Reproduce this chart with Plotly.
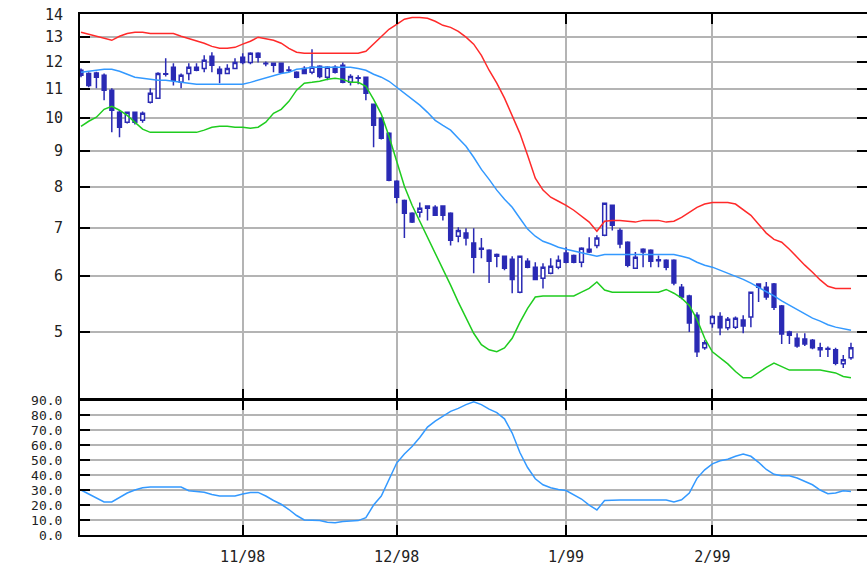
import plotly.graph_objects as go

# ---------------- data ----------------
MONTH_DAYS = {
    "1998-10": [2, 5, 6, 7, 8, 9, 12, 13, 14, 15, 16, 19, 20, 21, 22, 23, 26, 27, 28, 29, 30],
    "1998-11": [2, 3, 4, 5, 6, 9, 10, 11, 12, 13, 16, 17, 18, 19, 20, 23, 24, 25, 27, 30],
    "1998-12": [1, 2, 3, 4, 7, 8, 9, 10, 11, 14, 15, 16, 17, 18, 21, 22, 23, 24, 28, 29, 30, 31],
    "1999-01": [4, 5, 6, 7, 8, 11, 12, 13, 14, 15, 19, 20, 21, 22, 25, 26, 27, 28, 29],
    "1999-02": [1, 2, 3, 4, 5, 8, 9, 10, 11, 12, 16, 17, 18, 19, 22, 23, 24, 25, 26],
}
dates = [f"{m}-{d:02d}" for m, days in MONTH_DAYS.items() for d in days]

tick_dates = ["1998-11-02", "1998-12-01", "1999-01-04", "1999-02-01"]
tick_labels = ["11/98", "12/98", "1/99", "2/99"]

open_ = [11.68, 11.56, 11.58, 11.49, 10.95, 10.19, 9.87, 10.19, 9.93, 10.53,
         10.67, 11.55, 11.79, 11.23, 11.56, 11.79, 11.75, 12.22, 11.72, 11.56,
         11.75, 12.18, 11.98, 12.34, 11.95, 11.95, 11.95, 11.69, 11.60, 11.75,
         11.60, 11.83, 11.42, 11.79, 11.87, 11.23, 11.40, 11.42, 10.46, 10.00,
         9.52, 8.15, 7.66, 7.35, 7.37, 7.52, 7.49, 7.52, 7.35, 6.82,
         6.89, 6.67, 6.56, 6.52, 6.43, 6.39, 6.33, 5.69, 6.29, 6.17,
         5.95, 6.05, 6.17, 6.46, 6.41, 6.27, 6.54, 6.62, 6.84, 7.54,
         6.95, 6.69, 6.15, 6.54, 6.52, 6.32, 6.31, 6.31, 5.78, 5.62,
         5.28, 4.75, 5.14, 5.26, 5.07, 5.08, 5.20, 5.25, 5.84, 5.78,
         5.84, 5.44, 5.00, 4.90, 4.89, 4.87, 4.75, 4.74, 4.72, 4.51,
         4.60]

high = [11.75, 11.60, 11.62, 11.56, 11.02, 10.26, 10.22, 10.22, 10.22, 11.02,
        11.60, 12.14, 11.95, 11.56, 11.95, 11.95, 12.26, 12.38, 11.83, 11.91,
        12.14, 12.34, 12.38, 12.38, 12.02, 11.95, 11.98, 11.83, 11.64, 11.83,
        12.50, 11.87, 11.83, 11.87, 11.98, 11.53, 11.49, 11.45, 10.49, 10.03,
        9.55, 8.18, 7.68, 7.37, 7.61, 7.54, 7.54, 7.54, 7.37, 7.02,
        7.00, 7.00, 6.78, 6.54, 6.45, 6.41, 6.39, 6.41, 6.35, 6.27,
        6.25, 6.35, 6.41, 6.58, 6.43, 6.58, 6.80, 6.84, 7.61, 7.56,
        7.00, 6.71, 6.48, 6.56, 6.54, 6.41, 6.33, 6.33, 5.84, 5.64,
        5.33, 4.87, 5.28, 5.33, 5.25, 5.26, 5.28, 5.69, 5.85, 5.88,
        5.86, 5.46, 5.02, 4.98, 4.98, 4.89, 4.83, 4.77, 4.75, 4.64,
        4.83]

low = [11.42, 11.05, 11.02, 10.60, 9.55, 9.40, 9.83, 9.80, 9.85, 10.49,
       10.65, 11.45, 11.12, 11.02, 11.31, 11.64, 11.60, 11.60, 11.20, 11.53,
       11.72, 11.91, 11.91, 11.98, 11.83, 11.60, 11.56, 11.60, 11.38, 11.53,
       11.53, 11.38, 11.31, 11.56, 11.20, 11.12, 11.16, 10.60, 9.10, 9.33,
       8.15, 7.59, 6.78, 7.12, 7.25, 7.18, 7.28, 7.18, 6.62, 6.69,
       6.62, 6.05, 6.35, 5.86, 6.17, 6.11, 5.67, 5.67, 6.15, 5.92,
       5.76, 6.03, 6.13, 6.25, 6.25, 6.17, 6.46, 6.56, 6.82, 6.95,
       6.56, 6.17, 6.15, 6.17, 6.17, 6.17, 6.11, 5.82, 5.56, 5.00,
       4.61, 4.72, 5.07, 4.95, 5.03, 5.05, 4.98, 5.08, 5.51, 5.55,
       5.37, 4.81, 4.81, 4.75, 4.78, 4.73, 4.61, 4.61, 4.49, 4.45,
       4.57]

close = [11.49, 11.12, 11.42, 10.95, 10.26, 9.71, 10.19, 9.87, 10.16, 10.84,
         11.56, 11.53, 11.31, 11.49, 11.79, 11.68, 12.06, 11.87, 11.56, 11.75,
         11.98, 11.98, 12.34, 12.18, 11.93, 11.87, 11.60, 11.67, 11.42, 11.56,
         11.79, 11.45, 11.79, 11.60, 11.23, 11.45, 11.38, 10.84, 9.77, 9.37,
         8.18, 7.74, 7.35, 7.14, 7.47, 7.47, 7.30, 7.30, 6.73, 6.95,
         6.78, 6.37, 6.54, 6.29, 6.39, 6.15, 5.93, 6.39, 6.17, 5.93,
         6.17, 6.19, 6.31, 6.27, 6.27, 6.56, 6.48, 6.78, 7.59, 7.07,
         6.65, 6.21, 6.37, 6.48, 6.29, 6.30, 6.17, 5.86, 5.60, 5.15,
         4.69, 4.83, 5.26, 5.07, 5.21, 5.23, 5.10, 5.69, 5.78, 5.60,
         5.42, 4.97, 4.95, 4.78, 4.81, 4.75, 4.72, 4.73, 4.52, 4.57,
         4.75]

upper_band = [13.21, 13.12, 13.04, 12.95, 12.87, 13.04, 13.16, 13.21, 13.21, 13.16,
              13.16, 13.16, 13.16, 13.04, 12.95, 12.87, 12.75, 12.62, 12.54, 12.54,
              12.58, 12.71, 12.83, 13.00, 12.95, 12.87, 12.75, 12.54, 12.38, 12.34,
              12.34, 12.34, 12.34, 12.34, 12.34, 12.34, 12.34, 12.42, 12.71, 13.04,
              13.34, 13.55, 13.78, 13.86, 13.86, 13.82, 13.69, 13.51, 13.42, 13.25,
              13.00, 12.71, 12.26, 11.68, 11.20, 10.67, 10.09, 9.52, 8.87, 8.23,
              7.92, 7.74, 7.64, 7.54, 7.42, 7.28, 7.14, 6.93, 7.16, 7.18,
              7.18, 7.16, 7.14, 7.18, 7.18, 7.18, 7.14, 7.16, 7.25, 7.37,
              7.49, 7.57, 7.61, 7.61, 7.61, 7.57, 7.44, 7.30, 7.09, 6.89,
              6.75, 6.69, 6.54, 6.37, 6.21, 6.07, 5.92, 5.80, 5.76, 5.76,
              5.76]

middle_band = [11.60, 11.64, 11.68, 11.72, 11.72, 11.64, 11.53, 11.42, 11.38, 11.34,
               11.31, 11.31, 11.27, 11.23, 11.20, 11.16, 11.16, 11.16, 11.16, 11.16,
               11.16, 11.16, 11.23, 11.31, 11.38, 11.45, 11.56, 11.60, 11.72, 11.75,
               11.79, 11.79, 11.79, 11.79, 11.79, 11.79, 11.75, 11.68, 11.53, 11.42,
               11.27, 11.05, 10.84, 10.63, 10.43, 10.19, 9.93, 9.77, 9.62, 9.37,
               9.13, 8.81, 8.47, 8.20, 7.92, 7.69, 7.49, 7.23, 6.98, 6.82,
               6.71, 6.65, 6.58, 6.54, 6.50, 6.46, 6.43, 6.39, 6.43, 6.43,
               6.43, 6.43, 6.43, 6.43, 6.43, 6.43, 6.43, 6.43, 6.39, 6.35,
               6.27, 6.21, 6.17, 6.11, 6.05, 5.99, 5.93, 5.86, 5.78, 5.69,
               5.62, 5.53, 5.45, 5.37, 5.30, 5.23, 5.18, 5.12, 5.08, 5.05,
               5.03]

lower_band = [9.74, 9.90, 10.03, 10.29, 10.39, 10.26, 10.09, 9.87, 9.65, 9.55,
              9.55, 9.55, 9.55, 9.55, 9.55, 9.55, 9.62, 9.71, 9.74, 9.74,
              9.71, 9.71, 9.68, 9.71, 9.87, 10.16, 10.29, 10.56, 10.95, 11.20,
              11.23, 11.27, 11.34, 11.38, 11.34, 11.23, 11.23, 11.09, 10.63, 10.13,
              9.43, 8.67, 8.02, 7.54, 7.16, 6.80, 6.46, 6.15, 5.82, 5.51,
              5.23, 4.98, 4.80, 4.72, 4.69, 4.75, 4.90, 5.16, 5.40, 5.60,
              5.62, 5.62, 5.62, 5.62, 5.62, 5.69, 5.76, 5.88, 5.73, 5.69,
              5.69, 5.69, 5.69, 5.69, 5.69, 5.69, 5.74, 5.67, 5.58, 5.45,
              5.21, 4.90, 4.69, 4.60, 4.51, 4.40, 4.31, 4.31, 4.39, 4.46,
              4.52, 4.47, 4.42, 4.42, 4.42, 4.42, 4.42, 4.40, 4.38, 4.33,
              4.31]

indicator = [30, 27.5, 25, 22, 22, 25, 28, 30, 31.5, 32,
             32, 32, 32, 32, 29.5, 29, 28.5, 27, 26, 26,
             26, 27.3, 28.4, 28.4, 26, 23, 20.5, 17, 13, 10,
             10, 9.6, 8.5, 8.2, 9, 9.5, 9.6, 11.5, 20, 26,
             37, 48, 54, 59, 65, 72, 76, 79, 82.5, 84.5,
             87, 88.9, 87, 84, 81.6, 77.5, 68, 55, 45, 37.5,
             33.5, 31.5, 30.3, 29.7, 27, 24, 20, 16.7, 23, 23.3,
             23.3, 23.3, 23.3, 23.3, 23.3, 23.3, 23.3, 22, 23.5, 28,
             37.8, 43.5, 47.5, 49.5, 50.5, 52.5, 54, 52.5, 48.5, 43.7,
             40.5, 39.5, 39.5, 38, 36, 33.5, 30, 27.5, 28, 29.5,
             29]

price_ticks = [5, 6, 7, 8, 9, 10, 11, 12, 13, 14]
ind_ticks = [0, 10, 20, 30, 40, 50, 60, 70, 80, 90]
ind_labels = [f"{v:.1f}" for v in ind_ticks]

# ---------------- styling ----------------
CANDLE = "#2a2ab4"
RED = "#ff2a2a"
MID = "#3399ff"
GREEN = "#1fcc1f"
GRID = "#b4b4b4"
FONT = dict(family="DejaVu Sans Mono", size=15, color="#222222")
FONT_SMALL = dict(family="DejaVu Sans Mono", size=13, color="#222222")

fig = go.Figure()

fig.add_trace(go.Scatter(x=dates, y=upper_band, mode="lines",
                         line=dict(color=RED, width=1.5), xaxis="x", yaxis="y"))
fig.add_trace(go.Scatter(x=dates, y=middle_band, mode="lines",
                         line=dict(color=MID, width=1.5), xaxis="x", yaxis="y"))
fig.add_trace(go.Scatter(x=dates, y=lower_band, mode="lines",
                         line=dict(color=GREEN, width=1.5), xaxis="x", yaxis="y"))
fig.add_trace(go.Candlestick(
    x=dates, open=open_, high=high, low=low, close=close,
    increasing=dict(line=dict(color=CANDLE, width=1.5), fillcolor="white"),
    decreasing=dict(line=dict(color=CANDLE, width=1.5), fillcolor=CANDLE),
    whiskerwidth=0, xaxis="x", yaxis="y"))
fig.add_trace(go.Scatter(x=dates, y=indicator, mode="lines",
                         line=dict(color=MID, width=1.5), xaxis="x2", yaxis="y2"))

xcommon = dict(
    type="category", range=[-0.13, 102.08],
    tickmode="array", tickvals=tick_dates, ticktext=tick_labels,
    showgrid=True, gridcolor=GRID, gridwidth=2,
    showline=True, linecolor="black", linewidth=2, mirror="ticks",
    ticks="inside", ticklen=10, tickwidth=2, tickcolor="black",
    tickfont=FONT, zeroline=False, fixedrange=True,
)

fig.update_layout(
    width=867, height=573,
    margin=dict(l=80, r=0, t=14, b=38, autoexpand=False),
    paper_bgcolor="white", plot_bgcolor="white",
    showlegend=False,
    xaxis=dict(xcommon, anchor="y", showticklabels=False, rangeslider=dict(visible=False)),
    xaxis2=dict(xcommon, anchor="y2", matches="x", showticklabels=True,
                ticklabelstandoff=7),
    yaxis=dict(
        type="log", domain=[0.261, 1.0],
        range=[0.6047, 1.1466],
        tickmode="array", tickvals=price_ticks, ticktext=[str(v) for v in price_ticks],
        showgrid=True, gridcolor=GRID, gridwidth=2,
        showline=True, linecolor="black", linewidth=2, mirror="ticks",
        ticks="inside", ticklen=10, tickwidth=2, tickcolor="black",
        tickfont=FONT, ticklabelstandoff=12, ticklabeloverflow="allow",
        zeroline=False,
    ),
    yaxis2=dict(
        domain=[0.0, 0.2591], range=[0, 90.05],
        tickmode="array", tickvals=ind_ticks, ticktext=ind_labels,
        showgrid=True, gridcolor=GRID, gridwidth=2,
        showline=True, linecolor="black", linewidth=2, mirror="ticks",
        ticks="inside", ticklen=10, tickwidth=2, tickcolor="black",
        tickfont=FONT_SMALL, ticklabelstandoff=13, ticklabeloverflow="allow",
        zeroline=False,
    ),
)

# remove the browser's default 8px page margin so the figure sits at (0, 0)
fig.write_html("out.html", config={"displayModeBar": False},
               post_script="document.body.style.margin='0';")
